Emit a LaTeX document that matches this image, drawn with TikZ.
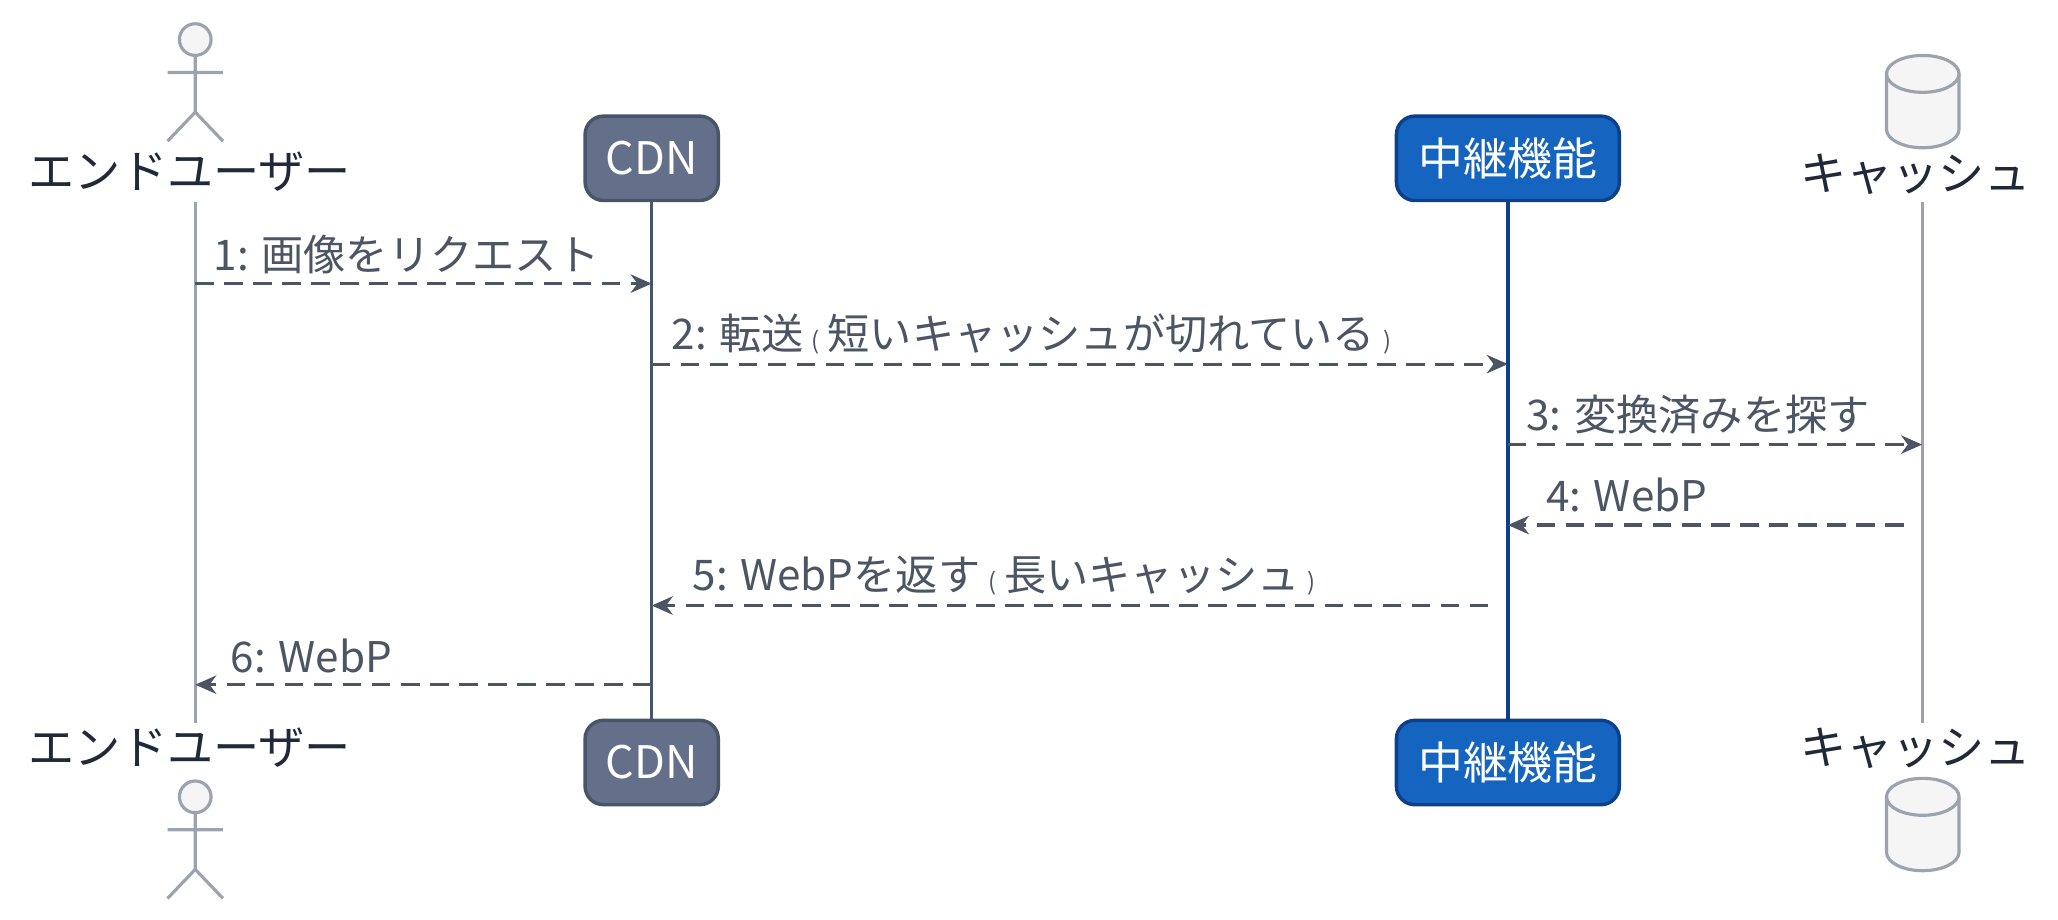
\documentclass[tikz,border=0pt]{standalone}
\usepackage{fontspec}
\setmainfont{Noto Sans CJK JP}
\usetikzlibrary{arrows.meta,shapes.geometric}
\definecolor{txt}{HTML}{1F2937}
\definecolor{msg}{HTML}{4B5563}
\definecolor{life}{HTML}{9CA3AF}
\definecolor{cdnf}{HTML}{64708A}
\definecolor{cdnd}{HTML}{475569}
\definecolor{relf}{HTML}{1565C0}
\definecolor{reld}{HTML}{0D3F8A}
\newcommand{\lbr}{\hspace{3pt}{\fontsize{9}{12}\selectfont (}\hspace{3pt}}
\newcommand{\rbr}{\hspace{3pt}{\fontsize{9}{12}\selectfont )}}
\begin{document}
\begin{tikzpicture}[x=0.5pt,y=-0.5pt,
  part/.style={font=\fontsize{17.5}{20}\selectfont,text=txt},
  box/.style={rounded corners=7pt,line width=1.3pt,minimum width=#1*0.5pt,minimum height=32pt,text=white,font=\fontsize{17}{20}\selectfont},
  m/.style={draw=msg,line width=1.2pt,dash pattern=on 7pt off 4pt,-{Stealth[length=8pt,width=7pt]}},
  lab/.style={font=\fontsize{16}{18}\selectfont,text=msg,anchor=west},
  stick/.style={draw=life,line width=1.2pt}]
\useasboundingbox (0,0) rectangle (1560,697);
% lifelines
\draw[stick] (148,153) -- (148,548);
\draw[draw=cdnd,line width=1.3pt] (494,153) -- (494,548);
\draw[draw=reld,line width=1.3pt] (1143,153) -- (1143,548);
\draw[stick] (1457,153) -- (1457,548);
% actors
\foreach \y in {0,574}{
  \begin{scope}[yshift=-\y*0.5pt]
  \draw[stick,fill=gray!8] (148,30) circle (6pt);
  \draw[stick] (148,42) -- (148,85) (127,55) -- (169,55) (127,107) -- (148,85) -- (169,107);
  \end{scope}
}
\node[part] (u1) at (144,130) {エンドユーザー};
\node[part] (u2) at (144,567) {エンドユーザー};
\node[box=101,fill=cdnf,draw=cdnd] (c1) at (494,120) {CDN};
\node[box=101,fill=cdnf,draw=cdnd] (c2) at (494,578) {CDN};
\node[box=169,fill=relf,draw=reld] (r1) at (1143,120) {中継機能};
\node[box=169,fill=relf,draw=reld] (r2) at (1143,578) {中継機能};
\node[part] (k1) at (1452,132) {キャッシュ};
\node[part] (k2) at (1452,567) {キャッシュ};
\foreach \t in {42,590}{
  \draw[stick,fill=gray!8] (1430,\t+14) -- (1430,\t+56) arc[start angle=180,end angle=0,x radius=27.5,y radius=14] -- (1485,\t+14) arc[start angle=0,end angle=-180,x radius=27.5,y radius=14] -- cycle;
  \draw[stick] (1430,\t+14) arc[start angle=180,end angle=0,x radius=27.5,y radius=14];
}
% coordinates
\coordinate (a1) at (148,215); \coordinate (b1) at (494,215);
\coordinate (a2) at (494,276); \coordinate (b2) at (1143,276);
\coordinate (a3) at (1143,337); \coordinate (b3) at (1457,337);
\coordinate (a4) at (1443,398); \coordinate (b4) at (1143,398);
\coordinate (a5) at (1128,459); \coordinate (b5) at (494,459);
\coordinate (a6) at (494,519); \coordinate (b6) at (148,519);
\draw[m] (a1) -- (b1); \draw[m] (a2) -- (b2); \draw[m] (a3) -- (b3);
\draw[m] (a4) -- (b4); \draw[m] (a5) -- (b5); \draw[m] (a6) -- (b6);
\node[lab] (l1) at (155,193) {1: 画像をリクエスト};
\node[lab] (l2) at (502,253) {2: 転送\lbr 短いキャッシュが切れている\rbr};
\node[lab] (l3) at (1150,314) {3: 変換済みを探す};
\node[lab] (l4) at (1165,375) {4: WebP};
\node[lab] (l5) at (518,436) {5: WebPを返す\lbr 長いキャッシュ\rbr};
\node[lab] (l6) at (168,497) {6: WebP};
\end{tikzpicture}
\end{document}
